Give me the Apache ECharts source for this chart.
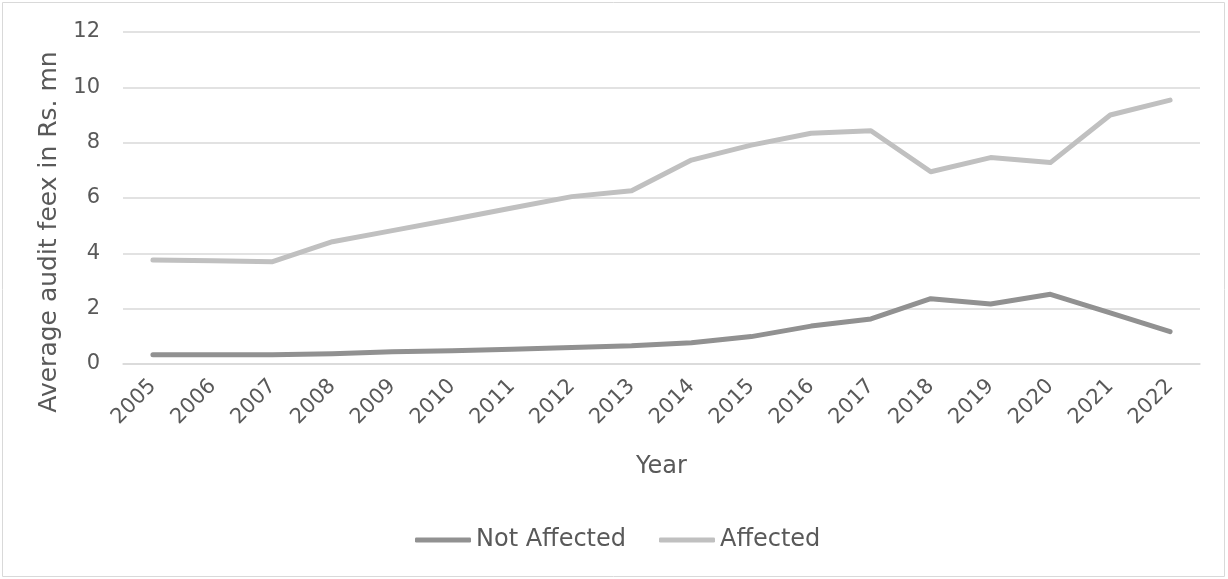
<!DOCTYPE html>
<html>
<head>
<meta charset="utf-8">
<script src="https://cdn.jsdelivr.net/npm/echarts@6/dist/echarts.min.js"></script>
<style>
  html, body { margin: 0; padding: 0; background: #fff; }
  #chart { width: 1228px; height: 579px; }
</style>
</head>
<body>
<div id="chart"></div>
<script>
const years = ['2005','2006','2007','2008','2009','2010','2011','2012','2013','2014','2015','2016','2017','2018','2019','2020','2021','2022'];
const notAffected = [0.33,0.33,0.33,0.37,0.44,0.48,0.53,0.60,0.66,0.77,0.99,1.37,1.63,2.36,2.17,2.52,1.85,1.17];
const affected = [3.76,3.73,3.70,4.42,4.82,5.22,5.64,6.05,6.26,7.37,7.91,8.34,8.43,6.95,7.46,7.28,9.00,9.54];
const yTicks = [0, 2, 4, 6, 8, 10, 12];

const FONT = '"DejaVu Sans", "Open Sans", sans-serif';
const TEXT = '#595959';

const chart = echarts.init(document.getElementById('chart'));
chart.setOption({
  animation: false,
  textStyle: { fontFamily: FONT },
  graphic: [{
    type: 'rect',
    shape: { x: 2.5, y: 2.5, width: 1222, height: 574 },
    style: { fill: 'none', stroke: '#d9d9d9', lineWidth: 1 }
  }],
  grid: { left: 123, right: 28, top: 32, bottom: 215 },
  legend: {
    top: 523,
    left: 410,
    itemWidth: 56,
    itemHeight: 5,
    itemGap: 33,
    icon: 'roundRect',
    textStyle: { color: TEXT, fontSize: 24, fontFamily: FONT },
    data: ['Not Affected', 'Affected']
  },
  xAxis: {
    type: 'category',
    data: years,
    name: 'Year',
    nameLocation: 'middle',
    nameGap: 91,
    nameTextStyle: { color: TEXT, fontSize: 24, fontFamily: FONT },
    axisLine: { show: true, lineStyle: { color: '#d9d9d9', width: 1.5 } },
    axisTick: { show: false },
    axisLabel: { rotate: 45, color: TEXT, fontSize: 21, fontFamily: FONT, margin: 19, interval: 0 }
  },
  yAxis: {
    type: 'value',
    min: yTicks[0],
    max: yTicks[yTicks.length - 1],
    interval: 2,
    name: 'Average audit feex in Rs. mn',
    nameLocation: 'middle',
    nameGap: 58,
    nameTextStyle: { color: TEXT, fontSize: 25, fontFamily: FONT, padding: [0, 68, 0, 0] },
    axisLine: { show: false },
    axisTick: { show: false },
    splitLine: { lineStyle: { color: '#d9d9d9', width: 1.5 } },
    axisLabel: { color: TEXT, fontSize: 21, fontFamily: FONT, margin: 23 }
  },
  series: [
    {
      name: 'Not Affected',
      type: 'line',
      data: notAffected,
      symbol: 'none',
      itemStyle: { color: '#919191' },
      lineStyle: { color: '#919191', width: 5, cap: 'round', join: 'round' }
    },
    {
      name: 'Affected',
      type: 'line',
      data: affected,
      symbol: 'none',
      itemStyle: { color: '#c0c0c0' },
      lineStyle: { color: '#c0c0c0', width: 5, cap: 'round', join: 'round' }
    }
  ]
});
</script>
</body>
</html>
